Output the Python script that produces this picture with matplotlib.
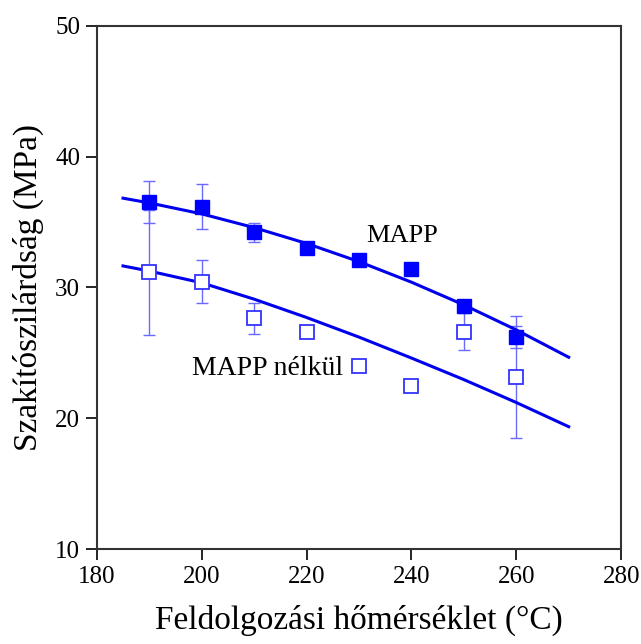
import numpy as np
import matplotlib.pyplot as plt

# mért pontok (hőmérséklet, szakítószilárdság, szórás)
temps = [190, 200, 210, 220, 230, 240, 250, 260]
mapp = [36.55, 36.17, 34.2, 32.99, 32.1, 31.38, 28.58, 26.23]
mapp_err = [1.6, 1.7, 0.7, 0.3, 0.2, 0.3, 0.4, 0.85]
nomapp = [31.15, 30.44, 27.64, 26.62, 24.0, 22.49, 26.62, 23.17]
nomapp_err = [4.8, 1.65, 1.2, 0.2, 0.2, 0.2, 1.4, 4.65]

# illesztett görbék (leolvasott pontok)
fit_t = [185, 190, 200, 210, 220, 230, 240, 250, 260, 270]
fit_mapp = [36.82, 36.46, 35.62, 34.57, 33.36, 31.97, 30.4, 28.66, 26.75, 24.66]
fit_nomapp = [31.64, 31.25, 30.35, 29.1, 27.7, 26.2, 24.6, 22.95, 21.2, 19.35]

plt.rcParams['font.family'] = ['Liberation Serif', 'DejaVu Serif']

fig = plt.figure(figsize=(6.41, 6.44), dpi=100)
ax = fig.add_axes([0.151, 0.1475, 0.818, 0.8125])

err_col = '#6a6aff'
ax.errorbar(temps, nomapp, yerr=nomapp_err, fmt='none', ecolor=err_col,
            elinewidth=1, capsize=4, capthick=1, zorder=2)
ax.errorbar(temps, mapp, yerr=mapp_err, fmt='none', ecolor=err_col,
            elinewidth=1, capsize=4, capthick=1, zorder=2)

ax.plot(fit_t, fit_mapp, color='#0000ee', lw=2.2, zorder=3)
ax.plot(fit_t, fit_nomapp, color='#0000ee', lw=2.2, zorder=3)

ax.plot(temps, mapp, 's', color='#0000ff', ms=10, mec='#0000ff', zorder=4)
ax.plot(temps, nomapp, 's', mfc='white', mec='#3333ff', mew=1.3, ms=9.5, zorder=4)

ax.text(238.2, 33.9, 'MAPP', fontsize=19, ha='center', va='center')
ax.text(212.6, 23.8, 'MAPP nélkül', fontsize=20, ha='center', va='center')

ax.set_xlim(180, 280)
ax.set_ylim(10, 50)
ax.set_xticks(np.arange(180, 281, 20))
ax.set_yticks(np.arange(10, 51, 10))
ax.tick_params(direction='out', length=8, width=1.2, labelsize=18, pad=4,
               top=False, right=False)
for s in ax.spines.values():
    s.set_linewidth(1.5)
    s.set_color('#333333')

ax.set_xlabel('Feldolgozási hőmérséklet (°C)', fontsize=24, labelpad=12)
ax.set_ylabel('Szakítószilárdság (MPa)', fontsize=24, labelpad=8)

fig.savefig('out.png', dpi=100)
